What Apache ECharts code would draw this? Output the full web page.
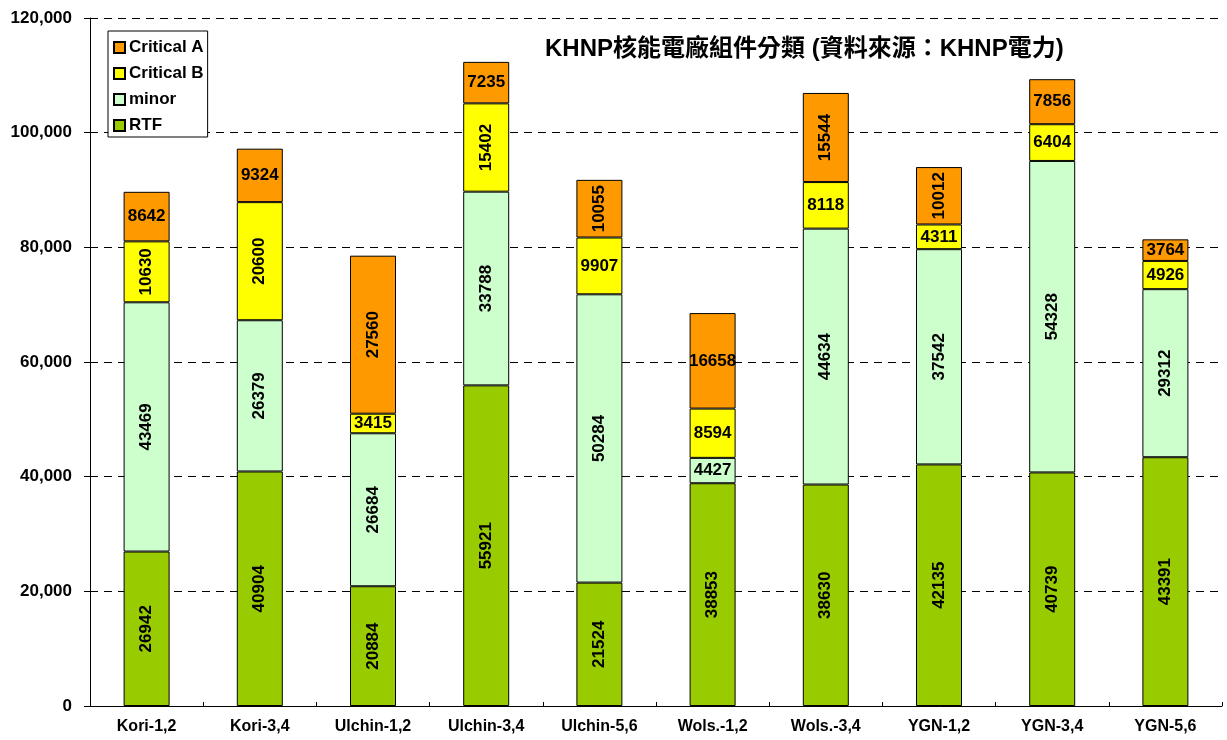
<!DOCTYPE html>
<html><head><meta charset="utf-8">
<script src="https://cdn.jsdelivr.net/npm/echarts@6/dist/echarts.min.js"></script>
<style>html,body{margin:0;padding:0;background:#fff}#c{width:1227px;height:740px}</style>
</head><body><div id="c"></div>
<script>
const categories = ['Kori-1,2','Kori-3,4','Ulchin-1,2','Ulchin-3,4','Ulchin-5,6','Wols.-1,2','Wols.-3,4','YGN-1,2','YGN-3,4','YGN-5,6'];
const rtf       = [26942, 40904, 20884, 55921, 21524, 38853, 38630, 42135, 40739, 43391];
const minor     = [43469, 26379, 26684, 33788, 50284, 4427, 44634, 37542, 54328, 29312];
const criticalB = [10630, 20600, 3415, 15402, 9907, 8594, 8118, 4311, 6404, 4926];
const criticalA = [8642, 9324, 27560, 7235, 10055, 16658, 15544, 10012, 7856, 3764];
const yTicks = [0, 20000, 40000, 60000, 80000, 100000, 120000];
// in the source, 5-digit labels are written vertically, except this one
const horizontalExceptions = [{series: 'Critical A', index: 5}];
const seriesDefs = [
  {name: 'RTF', data: rtf, color: '#99CC00'},
  {name: 'minor', data: minor, color: '#CCFFCC'},
  {name: 'Critical B', data: criticalB, color: '#FFFF00'},
  {name: 'Critical A', data: criticalA, color: '#FF9900'}
];
const FONT = '"Liberation Sans", Arial, sans-serif';
function isHorizontal(name, i, v) {
  if (horizontalExceptions.some(e => e.series === name && e.index === i)) return true;
  return v < 10000;
}
const chart = echarts.init(document.getElementById('c'));
chart.setOption({
  animation: false,
  backgroundColor: '#fff',
  title: {
    text: 'KHNP核能電廠組件分類 (資料來源：KHNP電力)',
    left: 540, top: 32,
    textStyle: {fontFamily: '"Liberation Sans", Arial, "Noto Sans CJK TC", sans-serif', fontWeight: 'bold', fontSize: 24, color: '#000'}
  },
  legend: {
    orient: 'vertical', left: 108, top: 31,
    data: ['Critical A', 'Critical B', 'minor', 'RTF'],
    itemWidth: 11, itemHeight: 11, itemGap: 9,
    padding: [8, 4, 3, 5],
    borderColor: '#000', borderWidth: 1, backgroundColor: '#fff',
    icon: 'rect',
    textStyle: {fontFamily: FONT, fontWeight: 'bold', fontSize: 17, lineHeight: 17, color: '#000', padding: [0, 0, 0, -1]}
  },
  grid: {left: 90, right: 5, top: 18, bottom: 34},
  xAxis: {
    type: 'category', data: categories,
    axisLine: {lineStyle: {color: '#000', width: 1}},
    axisTick: {show: true, inside: true, length: 4, lineStyle: {color: '#000'}},
    axisLabel: {fontFamily: FONT, fontWeight: 'bold', fontSize: 16, color: '#000', margin: 13}
  },
  yAxis: {
    type: 'value', min: yTicks[0], max: yTicks[yTicks.length - 1], interval: yTicks[1] - yTicks[0],
    axisLine: {show: true, lineStyle: {color: '#000', width: 1}},
    axisTick: {show: true, length: 6, lineStyle: {color: '#000'}},
    splitLine: {lineStyle: {color: '#000', type: [8, 6], width: 1}},
    axisLabel: {fontFamily: FONT, fontWeight: 'bold', fontSize: 17, color: '#000', margin: 18,
      formatter: v => v.toLocaleString('en-US')}
  },
  series: seriesDefs.map(s => ({
    name: s.name, type: 'bar', stack: 'total', barWidth: 46,
    itemStyle: {color: s.color, borderColor: '#000', borderWidth: 1},
    data: s.data.map((v, i) => ({
      value: v,
      label: {
        show: true, position: 'inside',
        rotate: isHorizontal(s.name, i, v) ? 0 : 90,
        fontFamily: FONT, fontWeight: 'bold', fontSize: 17, color: '#000',
        formatter: String(v)
      }
    }))
  }))
});
</script></body></html>
